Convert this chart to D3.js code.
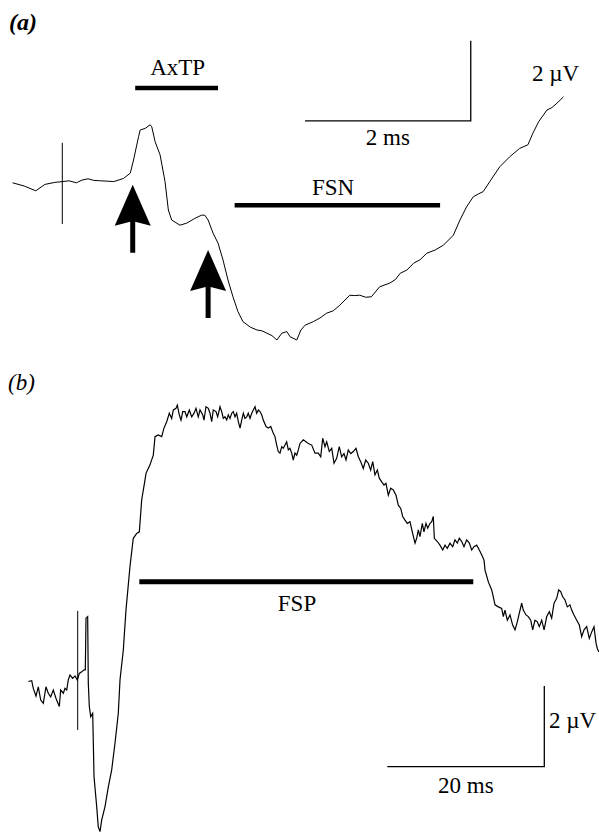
<!DOCTYPE html>
<html>
<head>
<meta charset="utf-8">
<script src="https://cdn.jsdelivr.net/npm/d3@7"></script>
<style>
  body { margin: 0; background: #fff; }
  text { font-family: "Liberation Serif", "Times New Roman", serif; fill: #000; }
</style>
</head>
<body>
<script>
let width = 599;
let height = 834;

// panel (a): time in ms (0 = stimulus), potential in µV
const traceA = [
  [-0.60, -0.02], [-0.46, -0.10], [-0.32, -0.22], [-0.21, -0.06], [-0.09, -0.01], [0, 0.01],
  [0.08, 0.03], [0.17, -0.02], [0.24, 0.05], [0.31, 0.08], [0.38, 0.04], [0.46, 0.03],
  [0.55, 0.02], [0.62, 0.01], [0.74, 0.09], [0.82, 0.22], [0.86, 0.55], [0.92, 1.13],
  [0.94, 1.30], [1.00, 1.34], [1.06, 1.43], [1.08, 1.38], [1.12, 1.01], [1.18, 0.68],
  [1.24, 0.01], [1.28, -0.70], [1.32, -0.95], [1.42, -1.08], [1.50, -1.03], [1.60, -0.91],
  [1.68, -0.83], [1.72, -0.83], [1.76, -0.95], [1.82, -1.28], [1.88, -1.53], [1.94, -1.95],
  [2.00, -2.45], [2.06, -2.87], [2.12, -3.24], [2.18, -3.49], [2.27, -3.63], [2.35, -3.70],
  [2.41, -3.72], [2.47, -3.78], [2.53, -3.84], [2.59, -3.95], [2.65, -3.78], [2.71, -3.74],
  [2.75, -3.87], [2.83, -3.95], [2.88, -3.70], [2.93, -3.58], [3.03, -3.49], [3.11, -3.40],
  [3.19, -3.28], [3.27, -3.22], [3.35, -3.08], [3.47, -2.83], [3.53, -2.84], [3.59, -2.83],
  [3.66, -2.88], [3.73, -2.87], [3.83, -2.62], [3.95, -2.53], [4.02, -2.44], [4.08, -2.28],
  [4.16, -2.20], [4.24, -2.03], [4.32, -1.94], [4.40, -1.78], [4.50, -1.70], [4.60, -1.58],
  [4.72, -1.33], [4.80, -0.95], [4.88, -0.62], [4.96, -0.37], [5.02, -0.30], [5.08, -0.24],
  [5.16, 0.01], [5.28, 0.38], [5.40, 0.63], [5.52, 0.84], [5.62, 0.93], [5.68, 1.22],
  [5.75, 1.51], [5.85, 1.80], [5.91, 1.86], [5.97, 1.97], [6.05, 2.13]
];
const stimA = [0.98, -1.05];             // vertical stimulus marker extent, µV
const arrowsA = [[0.85, -0.07], [1.76, -1.70]];   // arrow tips
const barsA = [
  { name: 'AxTP', t0: 0.88, t1: 1.88, v: 2.35 },
  { name: 'FSN', t0: 2.08, t1: 4.56, v: -0.58 }
];
const scaleA = { t: 2.93, v: 1.53, dt: 2, dv: 2, tLabel: '2 ms', vLabel: '2 \u00b5V' };

// panel (b)
const traceB = [
  [-6.29, 0.21], [-5.86, 0.23], [-5.66, 0.04], [-5.31, -0.15], [-5.02, 0.08], [-4.71, -0.25],
  [-4.38, -0.33], [-4.04, 0.08], [-3.75, -0.08], [-3.44, -0.17], [-3.11, 0], [-2.76, -0.21],
  [-2.34, -0.41], [-2.17, 0], [-1.83, -0.08], [-1.62, 0.04], [-1.40, 0], [-1.20, 0.25],
  [-0.98, 0.37], [-0.64, 0.29], [-0.34, 0.35], [-0.05, 0.25], [0.20, 0.41], [0.51, 0.45],
  [0.80, 0.50], [0.97, 0.50], [1.06, 1.78], [1.27, 1.82], [1.35, 0.17], [1.48, -0.41],
  [1.66, -0.66], [1.91, -0.58], [2.08, -2.15], [2.42, -2.89], [2.62, -3.39], [2.84, -3.51],
  [3.06, -3.22], [3.48, -2.89], [3.90, -2.40], [4.33, -1.98], [4.75, -1.32], [5.17, -0.58],
  [5.39, 0.25], [5.81, 0.99], [6.15, 1.98], [6.66, 3.06], [7.08, 3.76], [7.52, 3.88],
  [7.85, 3.92], [8.15, 4.71], [8.57, 5.20], [8.70, 5.37], [9.21, 5.58], [9.63, 5.82],
  [9.85, 6.28], [10.27, 6.32], [10.70, 6.28], [10.99, 6.49], [11.34, 6.65], [11.67, 6.86],
  [11.97, 6.73], [12.18, 6.94], [12.52, 6.98], [12.69, 7.06], [12.94, 6.82], [13.16, 6.69],
  [13.38, 6.90], [13.67, 6.90], [13.89, 6.77], [14.22, 6.94], [14.52, 6.77], [14.82, 6.86],
  [15.07, 6.98], [15.36, 6.77], [15.58, 6.94], [15.92, 6.82], [16.09, 6.69], [16.34, 7.02],
  [16.64, 6.98], [16.85, 6.86], [17.07, 6.65], [17.27, 6.94], [17.62, 6.90], [17.83, 6.77],
  [18.13, 7.02], [18.34, 6.90], [18.55, 6.73], [18.76, 6.77], [18.98, 6.69], [19.18, 6.82],
  [19.40, 6.73], [19.62, 6.86], [19.82, 6.90], [20.04, 6.77], [20.25, 6.86], [20.46, 6.65],
  [20.68, 6.49], [20.89, 6.69], [21.10, 6.86], [21.31, 6.73], [21.53, 6.77], [21.73, 6.86],
  [21.95, 6.73], [22.17, 6.86], [22.37, 6.94], [22.59, 7.02], [22.80, 6.86], [23.01, 6.94],
  [23.22, 6.90], [23.44, 6.82], [23.64, 6.69], [23.99, 6.53], [24.28, 6.49], [24.59, 6.53],
  [24.92, 6.36], [25.13, 6.28], [25.35, 6.07], [25.55, 5.91], [25.77, 5.87], [25.99, 6.03],
  [26.19, 5.99], [26.41, 6.07], [26.62, 6.15], [26.83, 5.95], [27.04, 5.99], [27.26, 5.87],
  [27.46, 5.70], [27.68, 5.87], [27.90, 5.82], [28.10, 5.95], [28.32, 6.11], [28.74, 6.20],
  [29.38, 6.11], [29.81, 6.07], [30.23, 5.87], [30.65, 5.87], [30.96, 5.78], [31.21, 6.24],
  [31.50, 6.03], [31.72, 6.15], [32.05, 5.91], [32.36, 5.99], [32.65, 5.62], [32.99, 5.74],
  [33.32, 6.03], [33.63, 5.78], [33.92, 5.86], [34.18, 5.70], [34.47, 5.95], [34.78, 5.86],
  [35.11, 5.91], [35.45, 5.99], [35.75, 5.78], [36.05, 5.66], [36.38, 5.49], [36.69, 5.70],
  [37.02, 5.62], [37.32, 5.45], [37.58, 5.66], [37.87, 5.33], [38.17, 5.45], [38.42, 5.25],
  [38.73, 5.16], [39.02, 5.08], [39.27, 5.12], [39.57, 4.83], [39.87, 5.00], [40.20, 4.96],
  [40.55, 4.83], [40.84, 4.58], [41.15, 4.50], [41.40, 4.30], [41.69, 4.21], [41.99, 4.13],
  [42.33, 4.17], [42.62, 3.92], [42.97, 3.64], [43.18, 3.76], [43.39, 3.97], [43.60, 3.80],
  [43.90, 4.13], [44.11, 3.92], [44.37, 4.13], [44.59, 4.01], [44.88, 4.13], [45.10, 4.17],
  [45.30, 4.30], [45.43, 3.76], [45.81, 3.68], [46.15, 3.59], [46.50, 3.47], [46.79, 3.59],
  [47.08, 3.51], [47.43, 3.64], [47.77, 3.55], [48.06, 3.72], [48.36, 3.64], [48.61, 3.76],
  [48.92, 3.68], [49.21, 3.55], [49.55, 3.72], [49.89, 3.64], [50.19, 3.47], [50.48, 3.55],
  [50.83, 3.59], [51.16, 3.47], [51.46, 3.35], [51.76, 3.22], [51.89, 2.97], [52.31, 2.68],
  [52.74, 2.48], [52.94, 2.31], [53.16, 2.11], [53.58, 2.06], [54.01, 2.02], [54.22, 1.82],
  [54.43, 1.98], [54.73, 1.73], [55.07, 1.86], [55.41, 1.61], [55.71, 1.49], [56.00, 1.69],
  [56.25, 1.90], [56.56, 2.15], [56.76, 1.98], [57.11, 1.86], [57.40, 1.82], [57.71, 1.73],
  [57.96, 1.49], [58.25, 1.73], [58.55, 1.69], [58.80, 1.57], [59.11, 1.73], [59.41, 1.49],
  [59.75, 1.82], [60.08, 1.94], [60.38, 1.78], [60.68, 2.15], [61.02, 2.27], [61.27, 2.48],
  [61.53, 2.44], [61.78, 2.31], [62.08, 2.23], [62.37, 2.06], [62.71, 2.11], [62.93, 1.98],
  [63.22, 1.86], [63.57, 1.73], [63.90, 1.61], [64.20, 1.32], [64.50, 1.49], [64.84, 1.57],
  [65.17, 1.28], [65.48, 1.44], [65.77, 1.57], [66.03, 1.16], [66.19, 1.03], [66.40, 0.94]
];
const stimB = [1.96, -0.99];
const barsB = [{ name: 'FSP', t0: 7.85, t1: 50.39, v: 2.68 }];
const scaleB = { t: 39.44, v: -1.90, dt: 20, dv: 2, tLabel: '20 ms', vLabel: '2 \u00b5V' };

// scales: time -> x, potential -> y
let xA = d3.scaleLinear().domain([0, 2]).range([62.3, 228]);
let yA = d3.scaleLinear().domain([0, 2]).range([182, 102]);
let xB = d3.scaleLinear().domain([0, 20]).range([77.7, 234.7]);
let yB = d3.scaleLinear().domain([0, 2]).range([690, 609.3]);

const svg = d3.select('body')
  .append('svg')
  .attr('width', width)
  .attr('height', height);

const label = (x, y, str, anchor, opts = {}) => svg.append('text')
  .attr('x', x)
  .attr('y', y)
  .attr('text-anchor', anchor)
  .attr('font-size', opts.size || 23)
  .attr('font-style', opts.style || 'normal')
  .attr('font-weight', opts.weight || 'normal')
  .text(str);

const drawPanel = (x, y, trace, stim, bars, sb, barWidth, traceWidth) => {
  const line = d3.line().x(d => x(d[0])).y(d => y(d[1]));

  svg.append('path')
    .datum(trace)
    .attr('d', line)
    .attr('fill', 'none')
    .attr('stroke', '#000')
    .attr('stroke-width', traceWidth)
    .attr('stroke-linejoin', 'miter');

  // stimulus marker
  svg.append('line')
    .attr('x1', x(0)).attr('x2', x(0))
    .attr('y1', y(stim[0])).attr('y2', y(stim[1]))
    .attr('stroke', '#000').attr('stroke-width', 1);

  svg.append('g')
    .selectAll('line')
    .data(bars)
    .enter().append('line')
    .attr('x1', d => x(d.t0)).attr('x2', d => x(d.t1))
    .attr('y1', d => y(d.v)).attr('y2', d => y(d.v))
    .attr('stroke', '#000').attr('stroke-width', barWidth);

  // calibration bars
  svg.append('path')
    .attr('d', `M${x(sb.t)},${y(sb.v)}H${x(sb.t + sb.dt)}V${y(sb.v + sb.dv)}`)
    .attr('fill', 'none').attr('stroke', '#000').attr('stroke-width', 1.3);
};

drawPanel(xA, yA, traceA, stimA, barsA, scaleA, 4.5, 1);
drawPanel(xB, yB, traceB, stimB, barsB, scaleB, 5, 1.2);

// arrows pointing up at the two AxTP peaks
svg.append('g')
  .selectAll('path')
  .data(arrowsA)
  .enter().append('path')
  .attr('transform', d => `translate(${xA(d[0])},${yA(d[1])})`)
  .attr('d', 'M0,0 L18,41 L2.5,37 L2.5,68 L-2.5,68 L-2.5,37 L-18,41 Z')
  .attr('fill', '#000');

// labels
label(9, 30, '(a)', 'start', { size: 24, style: 'italic', weight: 'bold' });
label(8, 390, '(b)', 'start', { size: 23, style: 'italic' });

label((xA(barsA[0].t0) + xA(barsA[0].t1)) / 2 + 1, 75, 'AxTP', 'middle');
label(333, 195, 'FSN', 'middle');
label((xA(scaleA.t) + xA(scaleA.t + scaleA.dt)) / 2, 145, scaleA.tLabel, 'middle');
label(532, 81, scaleA.vLabel, 'start');

label(297, 611, 'FSP', 'middle');
label((xB(scaleB.t) + xB(scaleB.t + scaleB.dt)) / 2, 793, scaleB.tLabel, 'middle');
label(549, 728, scaleB.vLabel, 'start');
</script>
</body>
</html>
